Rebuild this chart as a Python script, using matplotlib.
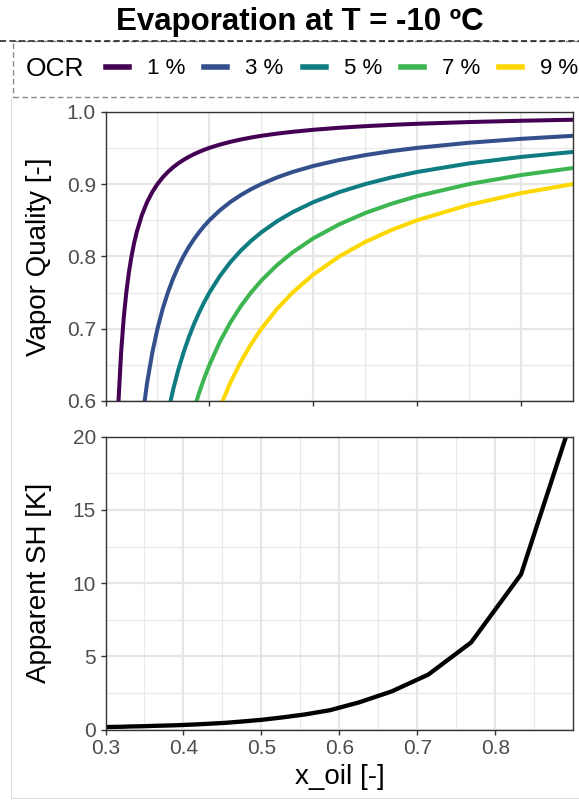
import numpy as np
import matplotlib
matplotlib.use("Agg")
import matplotlib.pyplot as plt
from matplotlib.lines import Line2D
from matplotlib.patches import Rectangle

plt.rcParams["font.family"] = ["Liberation Sans", "DejaVu Sans"]

W, H = 579, 800  # figure size in px

TITLE = "Evaporation at T = -10 ºC"
OCR_LABELS = ["1 %", "3 %", "5 %", "7 %", "9 %"]
OCR_COLORS = ["#440154", "#33508C", "#0F7C82", "#3DB651", "#FDD800"]

# top panel: vapor quality vs oil mass fraction
X_OIL_TOP = [0.020, 0.025, 0.030, 0.035, 0.040, 0.045, 0.050, 0.055, 0.060,
             0.070, 0.080, 0.090, 0.100, 0.110, 0.120, 0.130, 0.140, 0.150,
             0.160, 0.170, 0.180, 0.190, 0.200, 0.220, 0.240, 0.260, 0.280,
             0.300, 0.330, 0.360, 0.400, 0.450, 0.500, 0.550, 0.600, 0.700,
             0.800, 0.900]
VQ_1 = [0.5000, 0.6000, 0.6667, 0.7143, 0.7500, 0.7778, 0.8000, 0.8182,
        0.8333, 0.8571, 0.8750, 0.8889, 0.9000, 0.9091, 0.9167, 0.9231,
        0.9286, 0.9333, 0.9375, 0.9412, 0.9444, 0.9474, 0.9500, 0.9545,
        0.9583, 0.9615, 0.9643, 0.9667, 0.9697, 0.9722, 0.9750, 0.9778,
        0.9800, 0.9818, 0.9833, 0.9857, 0.9875, 0.9889]
VQ_3 = [None] * 8 + [0.5000, 0.5714, 0.6250, 0.6667, 0.7000, 0.7273, 0.7500,
                     0.7692, 0.7857, 0.8000, 0.8125, 0.8235, 0.8333, 0.8421,
                     0.8500, 0.8636, 0.8750, 0.8846, 0.8929, 0.9000, 0.9091,
                     0.9167, 0.9250, 0.9333, 0.9400, 0.9455, 0.9500, 0.9571,
                     0.9625, 0.9667]
VQ_5 = [None] * 12 + [0.5000, 0.5455, 0.5833, 0.6154, 0.6429, 0.6667, 0.6875,
                      0.7059, 0.7222, 0.7368, 0.7500, 0.7727, 0.7917, 0.8077,
                      0.8214, 0.8333, 0.8485, 0.8611, 0.8750, 0.8889, 0.9000,
                      0.9091, 0.9167, 0.9286, 0.9375, 0.9444]
VQ_7 = [None] * 16 + [0.5000, 0.5333, 0.5625, 0.5882, 0.6111, 0.6316, 0.6500,
                      0.6818, 0.7083, 0.7308, 0.7500, 0.7667, 0.7879, 0.8056,
                      0.8250, 0.8444, 0.8600, 0.8727, 0.8833, 0.9000, 0.9125,
                      0.9222]
VQ_9 = [None] * 21 + [0.5263, 0.5500, 0.5909, 0.6250, 0.6538, 0.6786, 0.7000,
                      0.7273, 0.7500, 0.7750, 0.8000, 0.8200, 0.8364, 0.8500,
                      0.8714, 0.8875, 0.9000]

# bottom panel: apparent superheat
X_OIL_SH = [0.294, 0.303, 0.313, 0.323, 0.333, 0.345, 0.357, 0.370, 0.385,
            0.400, 0.417, 0.435, 0.455, 0.476, 0.500, 0.526, 0.556, 0.588,
            0.625, 0.667, 0.714, 0.769, 0.833, 0.909]
SH = [0.16, 0.17, 0.18, 0.19, 0.21, 0.22, 0.24, 0.26, 0.28,
      0.31, 0.35, 0.40, 0.46, 0.55, 0.66, 0.82, 1.03, 1.32,
      1.85, 2.60, 3.75, 5.95, 10.60, 23.0]


def style_axes(ax):
    ax.set_facecolor("white")
    for s in ax.spines.values():
        s.set_color("#333333")
        s.set_linewidth(1.0)
    ax.grid(which="major", color="#E6E6E6", lw=1.6)
    ax.grid(which="minor", color="#E9E9E9", lw=0.9)
    ax.set_axisbelow(True)
    ax.tick_params(which="major", direction="out", length=3.6, width=1.0,
                   color="#333333", labelsize=15, labelcolor="#4D4D4D", pad=3.3)
    ax.tick_params(which="minor", length=0)


def main():
    fig = plt.figure(figsize=(W / 100, H / 100), dpi=100)

    ax1 = fig.add_axes([105.5 / W, 1 - 401 / H, 467.8 / W, (401 - 111.7) / H])
    ax2 = fig.add_axes([105.5 / W, 1 - 729.5 / H, 467.8 / W, (729.5 - 436.7) / H])

    # top panel
    for vq, c in zip([VQ_1, VQ_3, VQ_5, VQ_7, VQ_9], OCR_COLORS):
        ax1.plot(X_OIL_TOP, np.array(vq, dtype=float), color=c, lw=2.9)
    ax1.set_xlim(0, 0.9)
    ax1.set_ylim(0.6, 1.0)
    ax1.set_xticks([0, 0.2, 0.4, 0.6, 0.8])
    ax1.set_xticks([0.1, 0.3, 0.5, 0.7], minor=True)
    ax1.set_yticks([0.6, 0.7, 0.8, 0.9, 1.0])
    ax1.set_yticklabels(["0.6", "0.7", "0.8", "0.9", "1.0"])
    ax1.set_yticks([0.65, 0.75, 0.85, 0.95], minor=True)
    style_axes(ax1)
    ax1.tick_params(labelbottom=False)
    ax1.set_ylabel("Vapor Quality [-]", fontsize=20, va="center")
    ax1.yaxis.set_label_coords(-0.142, 0.5)

    # bottom panel
    ax2.plot(X_OIL_SH, SH, color="black", lw=3.1)
    ax2.set_xlim(0.3, 0.9)
    ax2.set_ylim(0, 20)
    ax2.set_xticks([0.3, 0.4, 0.5, 0.6, 0.7, 0.8])
    ax2.set_xticklabels(["0.3", "0.4", "0.5", "0.6", "0.7", "0.8"])
    ax2.set_xticks([0.35, 0.45, 0.55, 0.65, 0.75, 0.85], minor=True)
    ax2.set_yticks([0, 5, 10, 15, 20])
    ax2.set_yticks([2.5, 7.5, 12.5, 17.5], minor=True)
    style_axes(ax2)
    ax2.set_ylabel("Apparent SH [K]", fontsize=20, va="center")
    ax2.yaxis.set_label_coords(-0.142, 0.5)
    ax2.set_xlabel("x_oil [-]", fontsize=20, va="center")
    ax2.xaxis.set_label_coords(0.5, -0.162)

    # header: title, dashed box and horizontal legend
    fig.text(300 / W, 1 - 22 / H, TITLE, ha="center", va="center",
             fontsize=22.5, fontweight="bold")
    fig.add_artist(Rectangle((12.7 / W, 1 - 96.7 / H), 1.0, (96.7 - 41) / H,
                             transform=fig.transFigure, fill=False,
                             ec="#8a8a8a", lw=1.0, ls=(0, (4, 2.4))))
    fig.add_artist(Line2D([0, 1], [1 - 41 / H] * 2, transform=fig.transFigure,
                          color="#1a1a1a", lw=1.1, ls=(0, (4, 2.2))))
    fig.text(26 / W, 1 - 69 / H, "OCR", ha="left", va="center", fontsize=19)
    handles = [Line2D([], [], color=c, lw=4) for c in OCR_COLORS]
    fig.legend(handles, OCR_LABELS, loc="center left",
               bbox_to_anchor=(106 / W, 1 - 69 / H), ncol=5, frameon=False,
               fontsize=16, handlelength=1.04, handletextpad=0.8,
               columnspacing=0.86, borderpad=0, borderaxespad=0)

    # faint outer border of the plot area
    fig.add_artist(Line2D([11 / W, 11 / W], [1 - 99 / H, 1 - 798 / H],
                          transform=fig.transFigure, color="#dddddd", lw=0.8))
    fig.add_artist(Line2D([11 / W, 1], [1 - 798 / H] * 2,
                          transform=fig.transFigure, color="#dddddd", lw=0.8))

    fig.savefig("out.png", dpi=100)
    plt.close(fig)


if __name__ == "__main__":
    main()
